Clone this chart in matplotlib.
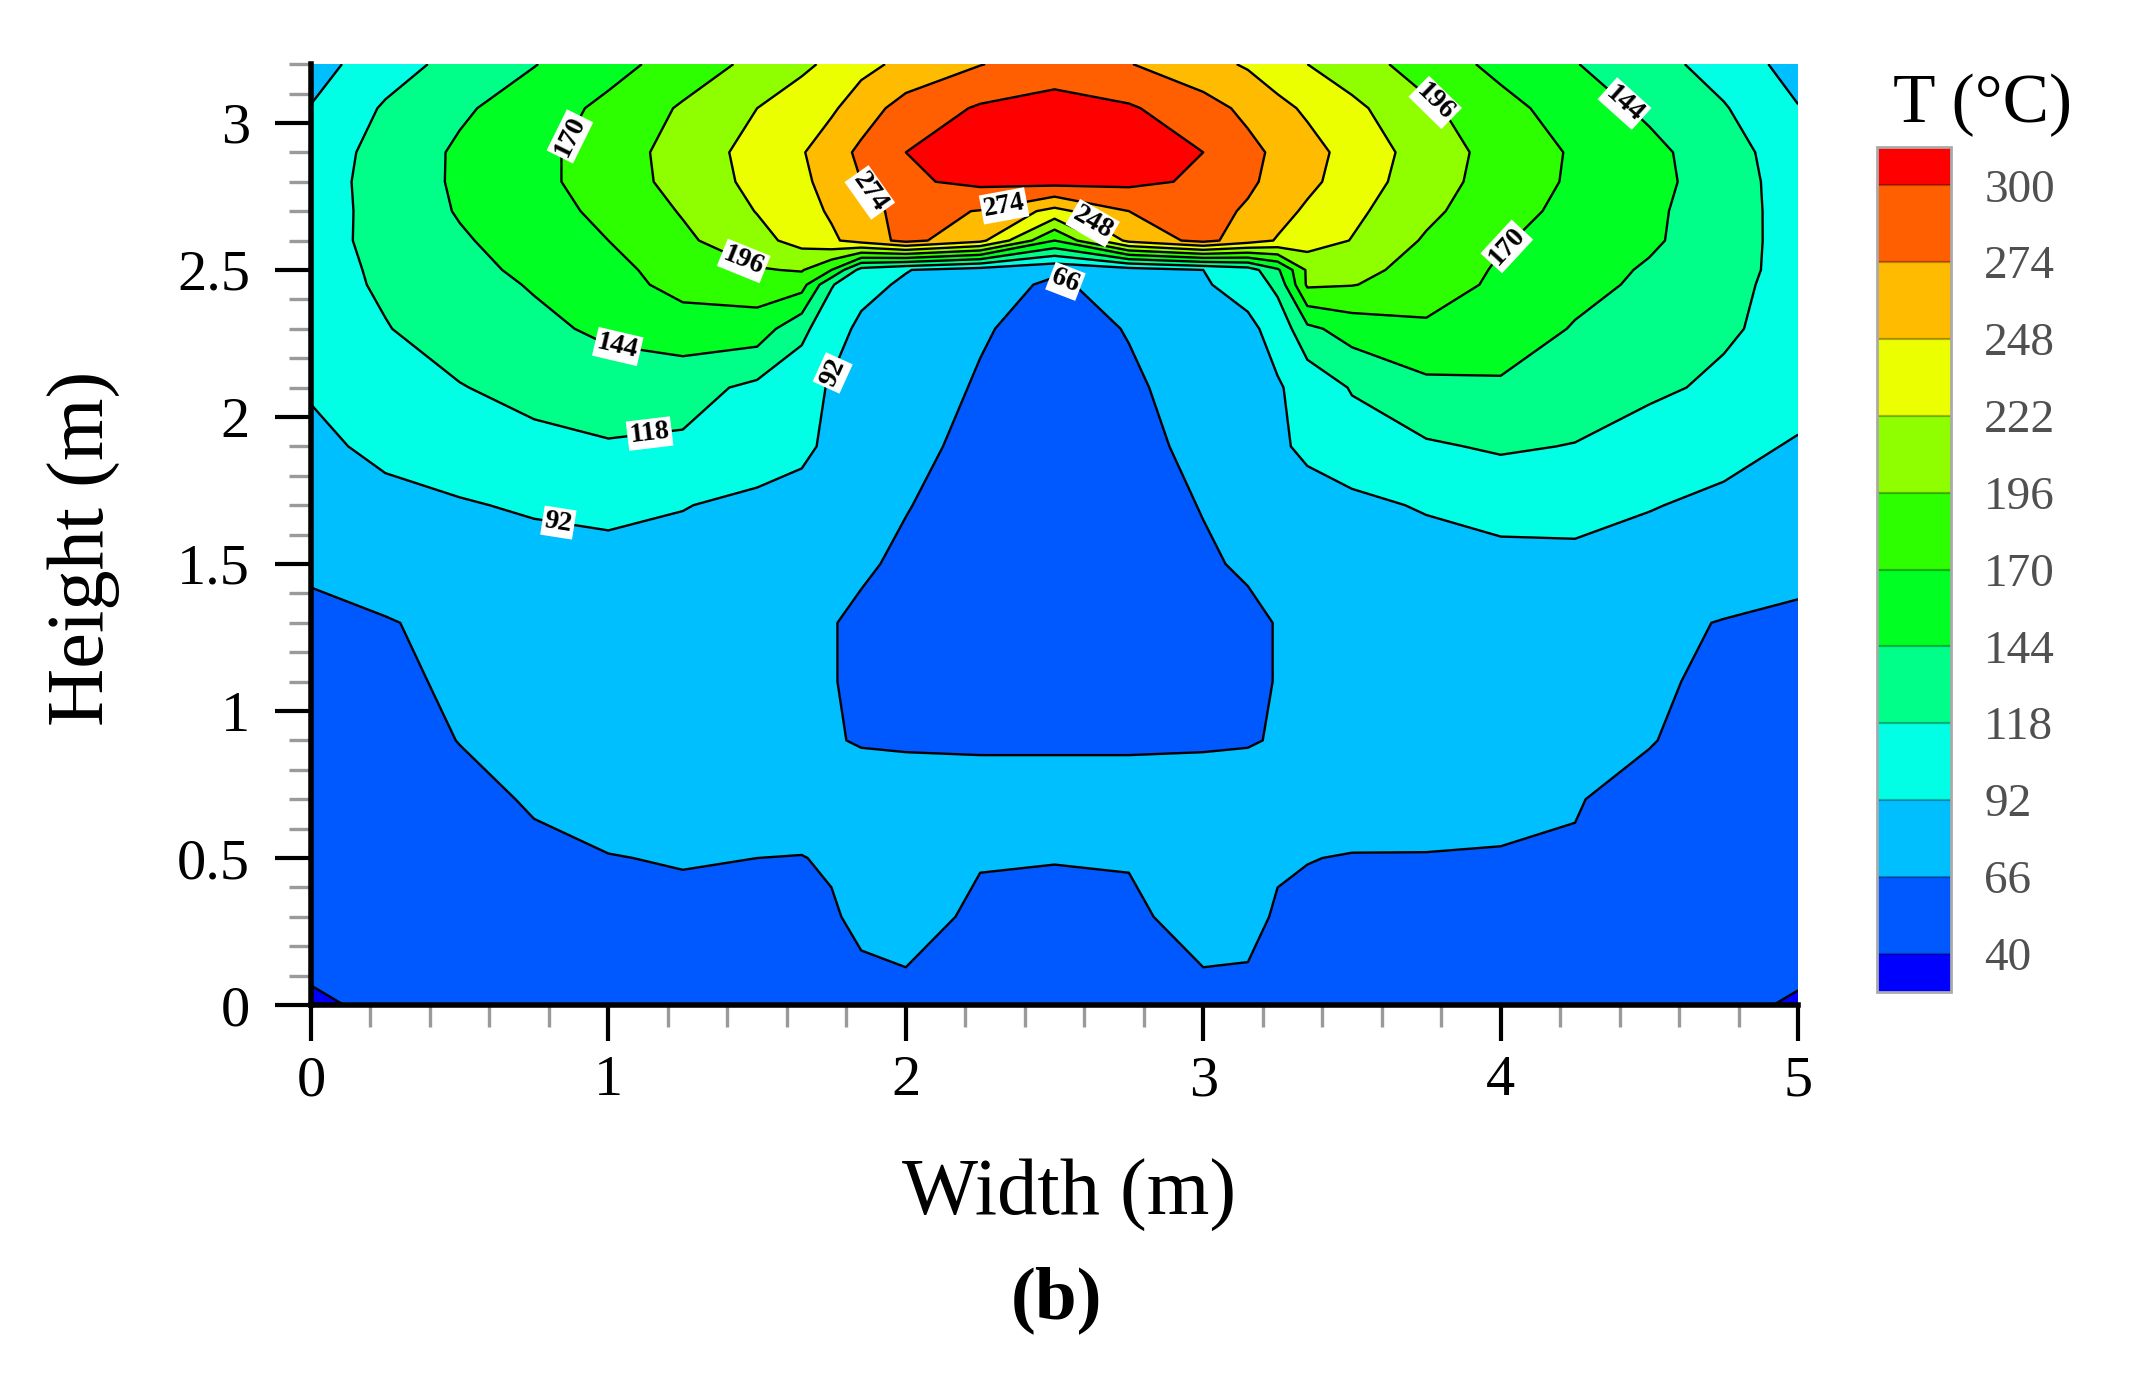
"""Temperature contour in a 5 m x 3.2 m section, panel (b).

Output: out.png
"""
import numpy as np
import matplotlib
matplotlib.use("Agg")
import matplotlib.pyplot as plt
from matplotlib.ticker import MultipleLocator

plt.rcParams["font.family"] = ["Liberation Serif", "DejaVu Serif"]

# grid (m)
width_m = [0, 0.25, 0.5, 0.75, 1.0, 1.25, 1.5, 1.65, 1.75, 1.85, 2.0, 2.25, 2.5,
           2.75, 3.0, 3.15, 3.25, 3.35, 3.5, 3.75, 4.0, 4.25, 4.5, 4.75, 5.0]
height_m = [0, 0.1, 0.3, 0.5, 0.7, 0.9, 1.1, 1.3, 1.5, 1.7, 1.9, 2.1, 2.3,
            2.45, 2.5, 2.6, 2.7, 2.8, 2.9, 3.05, 3.2]

# temperature (C), one row per height, bottom to top
temp_c = [
    [36, 45, 48, 52, 55, 56, 56, 56, 57, 60, 62, 57, 56, 57, 62, 61, 57, 56, 55, 55, 54, 52, 50, 48, 36],
    [42, 47, 50, 54, 57, 58, 58, 58, 60, 63, 65, 59, 58, 59, 65, 64.5, 60, 58, 57, 57, 56, 54, 52, 50, 44],
    [44, 49, 53, 58, 61, 62, 62, 62, 64, 70, 72, 63, 62, 63, 72, 71, 64, 62, 61, 61, 60, 58, 55, 52, 46],
    [45, 50, 56, 62, 65.5, 67, 66, 65.5, 68, 73, 74, 67, 66.5, 67, 74, 74, 68, 66.5, 65, 65, 64.5, 64.5, 58, 54, 48],
    [46, 52, 60, 68, 72, 74, 75, 75, 74, 73, 72, 72, 72, 72, 72, 73, 74, 75, 76, 75, 72, 67, 60, 54, 48],
    [50, 57, 66.5, 71, 73, 74, 73, 71, 67, 65, 64.5, 64, 64, 64, 64.5, 65, 67, 70, 72, 73, 72, 69, 67, 58, 52],
    [55, 62, 69, 73, 75, 75, 73, 70, 67, 62, 56, 52, 50, 52, 56, 61, 67, 70, 73, 75, 75, 73, 69, 62, 57],
    [60, 65, 70, 74, 76, 76, 74, 70, 67, 62, 56, 50, 48, 50, 56, 61, 67, 70, 73, 76, 76, 74, 71, 65, 60],
    [70, 74, 78, 82, 84, 83, 80, 76, 73, 69, 62, 52, 48, 52, 63, 69, 72, 74, 78, 82, 85, 86, 84, 80, 75],
    [82, 86, 90, 95, 98, 93, 86, 82, 79, 74, 67, 56, 50, 56, 67, 72, 78, 82, 87, 94, 100, 100, 93, 88, 85],
    [87, 97, 105, 112, 116, 114, 106, 98, 86, 80, 72, 60, 52, 60, 71, 78, 88, 97, 105, 115, 121, 117, 108, 98, 90],
    [94, 105, 117, 125, 131, 128, 112, 100, 90, 82, 76, 64, 55, 63, 74, 82, 90, 100, 120, 138, 140, 132, 122, 114, 100],
    [107, 117, 128, 138, 149, 158, 158, 125, 100, 88, 80, 68, 58, 67, 78, 87, 100, 138, 155, 165, 160, 142, 132, 121, 110],
    [109, 121, 134, 146, 160, 178, 183, 180, 120, 98, 89, 76, 62, 77, 90, 100, 125, 200, 197, 185, 164, 152, 139, 124, 110],
    [109, 122, 136, 150, 164, 179, 194, 198, 170, 108, 93, 80, 70, 80, 92, 105, 140, 200, 205, 185, 167, 155, 141, 126, 110],
    [109, 125, 141, 156, 170, 191, 214, 231, 244, 258, 282, 255, 170, 255, 282, 260, 246, 236, 221, 193, 172, 160, 148, 129, 108],
    [106, 127, 146, 160, 176, 198, 223, 239, 251, 266, 281, 273, 240, 274, 283, 271, 257, 244, 228, 202, 179, 163, 149, 130, 107],
    [106, 128, 148, 163, 182, 205, 229, 243, 257, 274, 296, 306, 309, 306, 296, 278, 267, 254, 236, 207, 185, 166, 152, 131, 105],
    [104, 127, 148, 163, 182, 207, 231, 246, 263, 279, 300, 309, 313, 309, 300, 281, 269, 257, 239, 210, 186, 167, 151, 129, 103],
    [93, 121, 140, 157, 176, 199, 222, 235, 244, 262, 284, 303, 309, 303, 284, 268, 255, 244, 228, 201, 178, 158, 139, 120, 93],
    [82, 106, 127, 143, 161, 181, 203, 217, 227, 240, 255, 273, 288, 275, 257, 245, 233, 222, 208, 184, 163, 145, 128, 107, 82],
]

levels = [40, 66, 92, 118, 144, 170, 196, 222, 248, 274, 300]
# under, 10 bands, over
band_colors = ["#0000ff", "#0058ff", "#00bfff", "#00ffe4", "#00ff88", "#00ff22",
               "#2eff00", "#8fff00", "#ebff00", "#ffbb00", "#ff5f00", "#ff0000"]

# where the in-line labels sit
label_pos = [(0.86, 2.96), (1.85, 2.74), (1.45, 2.52), (1.03, 2.23), (1.14, 1.93),
             (0.83, 1.63), (1.73, 2.16), (2.33, 2.72), (2.64, 2.68), (2.54, 2.47),
             (3.78, 3.07), (4.42, 3.07), (4.03, 2.57)]

T = np.array(temp_c)

fig = plt.figure(figsize=(10.68, 7.0), dpi=200)
ax = fig.add_axes([0.1456, 0.2821, 0.6962, 0.6721])

cf = ax.contourf(width_m, height_m, T, levels=levels, colors=band_colors,
                 extend="both")
cs = ax.contour(width_m, height_m, T, levels=levels, colors="k",
                linewidths=0.85)
lbls = ax.clabel(cs, fmt="%d", fontsize=10, inline=True, inline_spacing=2,
                 manual=label_pos)
for t in lbls:
    t.set_fontweight("bold")
    t.set_bbox(dict(boxstyle="square,pad=0.08", fc="white", ec="none"))

ax.set_xlim(0, 5)
ax.set_ylim(0, 3.2)
ax.set_xticks([0, 1, 2, 3, 4, 5])
ax.set_xticklabels(["0", "1", "2", "3", "4", "5"])
ax.set_yticks([0, 0.5, 1, 1.5, 2, 2.5, 3])
ax.set_yticklabels(["0", "0.5", "1", "1.5", "2", "2.5", "3"])
ax.xaxis.set_minor_locator(MultipleLocator(0.2))
ax.yaxis.set_minor_locator(MultipleLocator(0.1))
ax.tick_params(which="major", direction="out", length=13, width=1.5,
               labelsize=21)
ax.tick_params(axis="x", which="major", pad=5)
ax.tick_params(axis="y", which="major", pad=9)
ax.tick_params(which="minor", direction="out", length=8, width=1.2,
               color="#9a9a9a")
for s in ("top", "right"):
    ax.spines[s].set_visible(False)
for s in ("left", "bottom"):
    ax.spines[s].set_linewidth(2)

fig.text(0.0393, 0.6086, "Height (m)", rotation=90, ha="center", va="center",
         fontsize=29)
fig.text(0.5005, 0.1464, "Width (m)", ha="center", va="center", fontsize=29)
fig.text(0.4944, 0.0714, "(b)", ha="center", va="center", fontsize=27,
         fontweight="bold")

# colour bar
cax = fig.add_axes([0.8787, 0.2914, 0.0346, 0.6036])
cb = fig.colorbar(cf, cax=cax, ticks=levels, extendrect=True, extendfrac=0.05,
                  drawedges=True)
cb.ax.tick_params(length=0, labelsize=17, labelcolor="#505050", pad=12)
cb.outline.set_edgecolor("#aaaaaa")
cb.outline.set_linewidth(1.0)
cb.dividers.set_color((0, 0, 0, 0.3))
cb.dividers.set_linewidth(0.8)
fig.text(0.928, 0.925, "T (°C)", ha="center", va="center", fontsize=25)

fig.savefig("out.png", dpi=200)
print("Wrote out.png")
